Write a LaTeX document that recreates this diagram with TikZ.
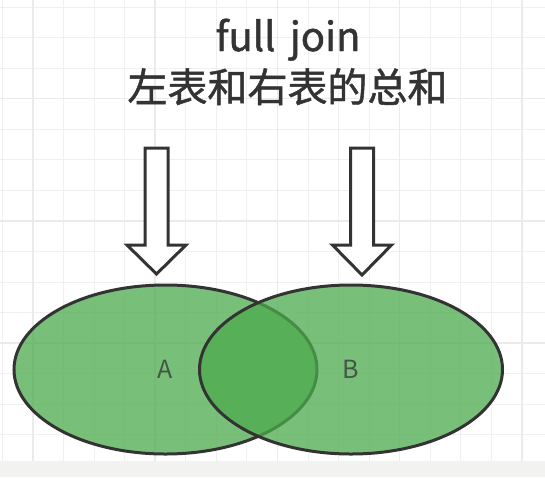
\documentclass[tikz,border=0pt]{standalone}
\usepackage{fontspec}
\newfontfamily\cjk{Noto Sans CJK SC}
\newfontfamily\cjkgrueso[FakeBold=1.2,WordSpace=1.6]{Noto Sans CJK SC}
\usetikzlibrary{shapes.geometric}
\definecolor{rejilla}{HTML}{F0F0F0}
\definecolor{rejillafuerte}{HTML}{EBEBEB}
\definecolor{verde}{HTML}{4CAB4D}
\definecolor{gris}{HTML}{333333}
\definecolor{pie}{HTML}{F2F2F0}
\tikzset{
  conjunto/.style={ellipse, draw=gris, line width=3pt, fill=verde, fill opacity=0.75,
    minimum width=303pt, minimum height=169pt, inner sep=0pt, text=gris,
    font=\cjk\fontsize{25}{25}\selectfont},
  flecha/.style={draw=gris, line width=3pt, fill=white},
  titulo/.style={text=gris, inner sep=0pt, font=\cjkgrueso\fontsize{40}{40}\selectfont}
}
\begin{document}
\begin{tikzpicture}[x=1pt,y=-1pt]
    		%fondo
    		\useasboundingbox (0,0) rectangle (545,477);
    		\fill [white] (0,0) rectangle (545,477);
  		%%%% REJILLA!!!
  		\foreach \i in {-1,...,17}
  		  \draw [rejilla, line width=1pt] ({33+30.56*\i},0) -- ({33+30.56*\i},461);
  		\foreach \j in {0,...,14}
  		  \draw [rejilla, line width=1pt] (0,{7+30.56*\j}) -- (545,{7+30.56*\j});
  		\foreach \i in {0,4,...,16}
  		  \draw [rejillafuerte, line width=1.5pt] ({33+30.56*\i},0) -- ({33+30.56*\i},461);
  		\foreach \j in {3,7,11}
  		  \draw [rejillafuerte, line width=1.5pt] (0,{7+30.56*\j}) -- (545,{7+30.56*\j});
  		\fill [pie] (0,461) rectangle (545,477);

  		%titulo
  		\node[titulo, anchor=base] at (288,51) (titulo) {full join};
  		\node[titulo, anchor=base] at (287.5,102) (subtitulo) {左表和右表的总和};

  		%flechas
  		\foreach \cx/\tip in {156.5/274, 362/275}
  		  \draw [flecha] (\cx-11.5,148) -- (\cx+11.5,148) -- (\cx+11.5,245) -- (\cx+29.5,245)
  		    -- (\cx,\tip) -- (\cx-29.5,245) -- (\cx-11.5,245) -- cycle;

  		%conjuntos
  		\node[conjunto] at (165.5,369.5) (A) {A};
  		\node[conjunto] at (351,369.5) (B) {B};
		\end{tikzpicture}
\end{document}
